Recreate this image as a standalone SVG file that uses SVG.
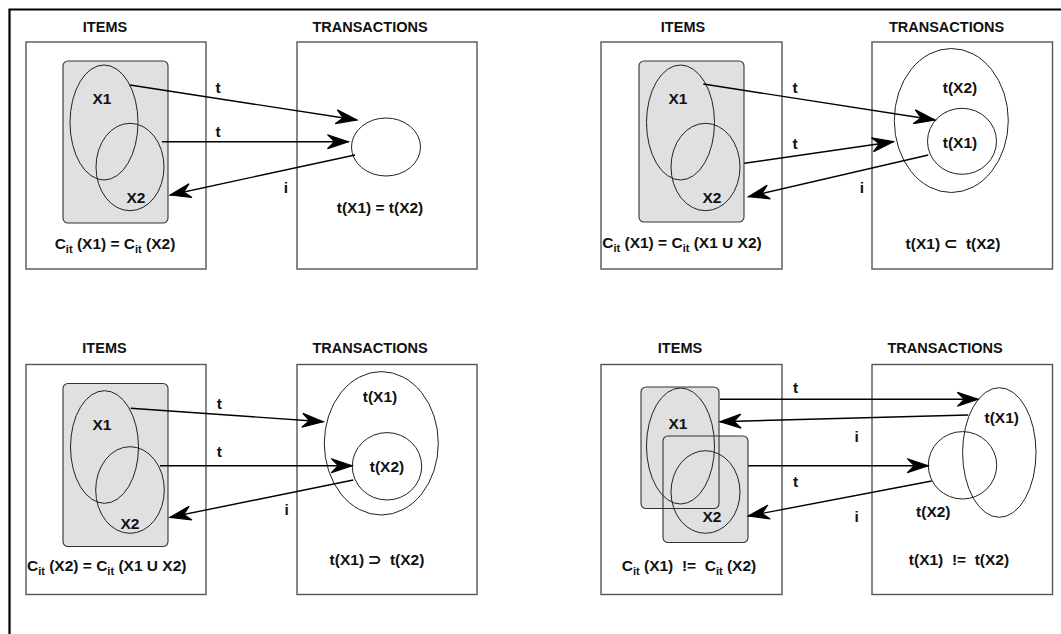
<svg xmlns="http://www.w3.org/2000/svg" width="1061" height="634" viewBox="0 0 1061 634">
<defs>
<style>
text{font-family:"Liberation Sans",Arial,sans-serif;font-weight:bold;fill:#111;text-anchor:middle;white-space:pre}
.hdr{font-size:14.5px}
.lbl{font-size:15.5px}
.sub{font-size:11px}
.box{fill:#fff;stroke:#555;stroke-width:1.4}
.grp{fill:#e0e0e0;stroke:#333;stroke-width:1.1}
.grpf{fill:#e0e0e0;stroke:none}
.grps{fill:none;stroke:#333;stroke-width:1.1}
.set{fill:none;stroke:#222;stroke-width:1}
.tr{fill:#fff;stroke:#222;stroke-width:1}
.arr{fill:none;stroke:#000;stroke-width:1.4;marker-end:url(#ah)}
</style>
<marker id="ah" markerUnits="userSpaceOnUse" markerWidth="26" markerHeight="18" viewBox="-23 -9 24 18" refX="0" refY="0" orient="auto">
<path d="M0,0 L-21,-7 L-14,0 L-21,7 Z" fill="#000" stroke="#000" stroke-width="1.2" stroke-linejoin="miter"/>
</marker>
</defs>
<rect width="1061" height="634" fill="#fff"/>
<path d="M9.5,634 V9.5 H1061" fill="none" stroke="#000" stroke-width="2.2"/>

<g id="q1-items">
<text class="hdr" x="105" y="31.5">ITEMS</text>
<rect class="box" x="26" y="42" width="180" height="227"/>
<rect class="grp" x="63" y="61" width="105" height="162" rx="5"/>
<ellipse class="set" cx="104" cy="122.5" rx="34" ry="57.5"/>
<ellipse class="set" cx="130" cy="167" rx="34" ry="43.7"/>
<text class="lbl" x="102" y="104">X1</text>
<text class="lbl" x="136" y="203">X2</text>
<text class="lbl" x="115" y="249">C<tspan class="sub" dy="4">it</tspan><tspan dy="-4"> (X1) = C</tspan><tspan class="sub" dy="4">it</tspan><tspan dy="-4"> (X2)</tspan></text>
</g>
<g id="q1-trans">
<text class="hdr" x="370" y="31.5">TRANSACTIONS</text>
<rect class="box" x="297" y="42" width="180" height="227"/>
<ellipse class="tr" cx="386" cy="147" rx="34.5" ry="29"/>
<text class="lbl" x="380" y="213">t(X1) = t(X2)</text>
</g>

<g id="q2-items">
<text class="hdr" x="683" y="31.5">ITEMS</text>
<rect class="box" x="601" y="42" width="181" height="227"/>
<rect class="grp" x="639" y="61" width="105" height="161" rx="5"/>
<ellipse class="set" cx="680.5" cy="122.5" rx="34" ry="57.5"/>
<ellipse class="set" cx="705.5" cy="167" rx="34.5" ry="43.7"/>
<text class="lbl" x="678" y="104">X1</text>
<text class="lbl" x="712" y="203">X2</text>
<text class="lbl" x="682" y="248">C<tspan class="sub" dy="4">it</tspan><tspan dy="-4"> (X1) = C</tspan><tspan class="sub" dy="4">it</tspan><tspan dy="-4"> (X1 U X2)</tspan></text>
</g>
<g id="q2-trans">
<text class="hdr" x="946.5" y="31.5">TRANSACTIONS</text>
<rect class="box" x="872" y="42" width="180.5" height="227"/>
<ellipse class="set" cx="951.3" cy="120.5" rx="57" ry="72"/>
<ellipse class="set" cx="962" cy="141.3" rx="34.5" ry="33"/>
<text class="lbl" x="960" y="93">t(X2)</text>
<text class="lbl" x="960" y="148">t(X1)</text>
<text class="lbl" x="953" y="249">t(X1) ⊂  t(X2)</text>
</g>

<g id="q3-items">
<text class="hdr" x="104.5" y="353.3">ITEMS</text>
<rect class="box" x="26" y="364.5" width="180" height="230"/>
<rect class="grp" x="63" y="383.5" width="105" height="163" rx="5"/>
<ellipse class="set" cx="104.5" cy="447" rx="34" ry="56.3"/>
<ellipse class="set" cx="130" cy="490" rx="34.3" ry="43.3"/>
<text class="lbl" x="102" y="430">X1</text>
<text class="lbl" x="130" y="529">X2</text>
<text class="lbl" x="106.7" y="571">C<tspan class="sub" dy="4">it</tspan><tspan dy="-4"> (X2) = C</tspan><tspan class="sub" dy="4">it</tspan><tspan dy="-4"> (X1 U X2)</tspan></text>
</g>
<g id="q3-trans">
<text class="hdr" x="370" y="353.3">TRANSACTIONS</text>
<rect class="box" x="297" y="364.5" width="180" height="230"/>
<ellipse class="set" cx="381.3" cy="443.3" rx="57" ry="71.7"/>
<ellipse class="set" cx="387" cy="466.3" rx="34.7" ry="33.7"/>
<text class="lbl" x="380" y="401.7">t(X1)</text>
<text class="lbl" x="387" y="471.7">t(X2)</text>
<text class="lbl" x="377" y="565">t(X1) ⊃  t(X2)</text>
</g>

<g id="q4-items">
<text class="hdr" x="680" y="353.3">ITEMS</text>
<rect class="box" x="601" y="364.5" width="181" height="230"/>
<rect class="grpf" x="641" y="387" width="78" height="121.5" rx="5"/>
<rect class="grpf" x="663" y="436" width="85" height="106.5" rx="5"/>
<rect class="grps" x="641" y="387" width="78" height="121.5" rx="5"/>
<rect class="grps" x="663" y="436" width="85" height="106.5" rx="5"/>
<ellipse class="set" cx="680.5" cy="446" rx="34" ry="58"/>
<ellipse class="set" cx="705.5" cy="492" rx="34.5" ry="41.3"/>
<text class="lbl" x="678" y="429.3">X1</text>
<text class="lbl" x="712" y="521.7">X2</text>
<text class="lbl" x="689" y="571">C<tspan class="sub" dy="4">it</tspan><tspan dy="-4"> (X1)  !=  C</tspan><tspan class="sub" dy="4">it</tspan><tspan dy="-4"> (X2)</tspan></text>
</g>
<g id="q4-trans">
<text class="hdr" x="945" y="353.3">TRANSACTIONS</text>
<rect class="box" x="872" y="364.5" width="180.5" height="230"/>
<ellipse class="set" cx="999.3" cy="452.5" rx="36.7" ry="64.8"/>
<ellipse class="set" cx="962.5" cy="465.3" rx="34.2" ry="33.7"/>
<text class="lbl" x="1001.7" y="423.3">t(X1)</text>
<text class="lbl" x="933.3" y="516.7">t(X2)</text>
<text class="lbl" x="959" y="565">t(X1)  !=  t(X2)</text>
</g>

<g id="connectors">
<line class="arr" x1="130" y1="85" x2="357" y2="120"/>
<line class="arr" x1="162" y1="141.7" x2="348.5" y2="141.7"/>
<line class="arr" x1="355" y1="155" x2="170" y2="195"/>
<text class="lbl" x="218" y="93">t</text>
<text class="lbl" x="218" y="137">t</text>
<text class="lbl" x="286" y="193">i</text>

<line class="arr" x1="703.3" y1="84" x2="935" y2="120"/>
<line class="arr" x1="744.3" y1="163.3" x2="893.3" y2="141.7"/>
<line class="arr" x1="928.3" y1="155" x2="748.3" y2="196.7"/>
<text class="lbl" x="795" y="93">t</text>
<text class="lbl" x="795" y="149">t</text>
<text class="lbl" x="862" y="193">i</text>

<line class="arr" x1="130.7" y1="408.3" x2="323.3" y2="421.7"/>
<line class="arr" x1="160" y1="465.7" x2="352.3" y2="465.7"/>
<line class="arr" x1="353.3" y1="480" x2="170" y2="517.3"/>
<text class="lbl" x="219.3" y="409">t</text>
<text class="lbl" x="219.3" y="457">t</text>
<text class="lbl" x="286.7" y="515">i</text>

<line class="arr" x1="720" y1="399.3" x2="978.3" y2="399.3"/>
<line class="arr" x1="968.3" y1="415" x2="720" y2="421.7"/>
<line class="arr" x1="748.3" y1="465.7" x2="928.3" y2="465.7"/>
<line class="arr" x1="931.7" y1="481" x2="748.3" y2="516"/>
<text class="lbl" x="795.7" y="392.7">t</text>
<text class="lbl" x="856.7" y="441.7">i</text>
<text class="lbl" x="795.7" y="486.7">t</text>
<text class="lbl" x="856.7" y="521.7">i</text>
</g>
</svg>
